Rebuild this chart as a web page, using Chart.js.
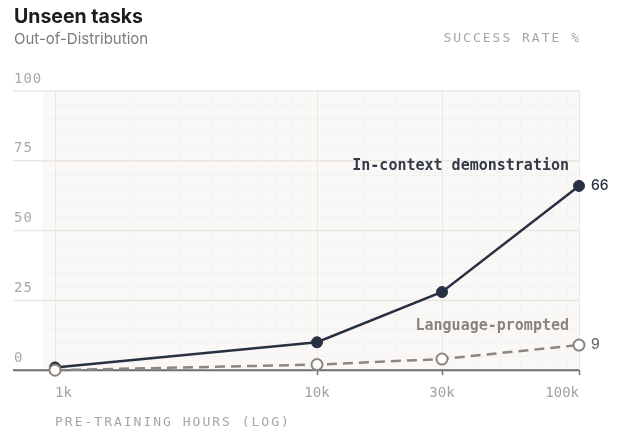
<!DOCTYPE html>
<html lang="en">
<head>
    <meta charset="UTF-8">
    <title>Unseen tasks</title>
    <style>
        body {
            margin: 0;
            background-color: #ffffff;
        }
        .wrap {
            position: relative;
            width: 623px;
            height: 439px;
        }
    </style>
    <script src="https://cdn.jsdelivr.net/npm/chart.js"></script>
</head>
<body>
    <div class="wrap">
        <canvas id="grafico"></canvas>
    </div>

    <script>
        // dados
        const horas = [1000, 10000, 30000, 100000];
        const rotulosX = ['1k', '10k', '30k', '100k'];
        const ticksY = [0, 25, 50, 75, 100];
        const demonstracao = [1, 10, 28, 66];
        const linguagem = [0, 2, 4, 9];
        const nomes = ['In-context demonstration', 'Language-prompted'];

        const mono = '"DejaVu Sans Mono", monospace';
        const sans = 'Inter, "Noto Sans", sans-serif';
        const escuro = '#283142';
        const cinza = '#8d867e';

        // fundo, grade e textos desenhados por cima do gráfico
        const extras = {
            id: 'extras',
            beforeDraw(chart) {
                const { ctx, chartArea: a } = chart;
                const y = chart.scales.y;
                ctx.save();
                ctx.fillStyle = '#ffffff';
                ctx.fillRect(0, 0, chart.width, chart.height);
                ctx.fillStyle = '#faf8f6';
                ctx.fillRect(a.left - 12, a.top, a.right - a.left + 12, a.bottom - a.top);
                // linhas finas a cada 5
                ctx.strokeStyle = '#f4f1ee';
                ctx.lineWidth = 1;
                for (let v = 5; v < 100; v += 5) {
                    if (v % 25 === 0) continue;
                    const py = Math.round(y.getPixelForValue(v)) + 0.5;
                    ctx.beginPath();
                    ctx.moveTo(a.left - 12, py);
                    ctx.lineTo(a.right, py);
                    ctx.stroke();
                }
                ctx.restore();
            },
            beforeDatasetsDraw(chart) {
                const { ctx, chartArea: a } = chart;
                const y = chart.scales.y;
                ctx.save();
                ticksY.forEach(v => {
                    const py = y.getPixelForValue(v);
                    ctx.beginPath();
                    if (v === 0) {
                        ctx.strokeStyle = '#6e6e6e';
                        ctx.lineWidth = 2;
                    } else {
                        ctx.strokeStyle = '#e9e5e0';
                        ctx.lineWidth = 1.5;
                    }
                    ctx.moveTo(13, py);
                    ctx.lineTo(a.right, py);
                    ctx.stroke();
                });
                ctx.restore();
            },
            afterDraw(chart) {
                const { ctx, chartArea: a } = chart;
                const x = chart.scales.x;
                const y = chart.scales.y;
                ctx.save();
                ctx.textBaseline = 'middle';

                // título e subtítulo
                ctx.textAlign = 'left';
                ctx.fillStyle = '#1c1c1e';
                ctx.font = '700 19.5px ' + sans;
                ctx.fillText('Unseen tasks', 14, 17);
                ctx.fillStyle = '#7b7b7b';
                ctx.font = '15px ' + sans;
                ctx.fillText('Out-of-Distribution', 14, 39);

                // rótulo do eixo y
                ctx.letterSpacing = '2px';
                ctx.font = '13px ' + mono;
                ctx.fillStyle = '#a6a6a6';
                ctx.textAlign = 'right';
                ctx.fillText('SUCCESS RATE %', a.right + 2, 39);

                // rótulo do eixo x
                ctx.textAlign = 'left';
                ctx.fillText('PRE-TRAINING HOURS (LOG)', a.left, 423);

                // valores do eixo y
                ctx.letterSpacing = '1px';
                ctx.font = '14px ' + mono;
                ctx.fillStyle = '#a8a8a8';
                ticksY.forEach(v => {
                    ctx.fillText(String(v), 14, y.getPixelForValue(v) - 12);
                });
                ctx.letterSpacing = '0px';

                // nomes das séries e valores finais
                const ult = horas.length - 1;
                const px = x.getPixelForValue(horas[ult]);
                const py1 = y.getPixelForValue(demonstracao[ult]);
                const py2 = y.getPixelForValue(linguagem[ult]);

                ctx.textAlign = 'right';
                ctx.font = 'bold 15px ' + mono;
                ctx.fillStyle = '#333a46';
                ctx.fillText(nomes[0], px - 10, py1 - 20);
                ctx.fillStyle = '#8a847d';
                ctx.fillText(nomes[1], px - 10, py2 - 19);

                ctx.textAlign = 'left';
                ctx.font = '500 14px ' + sans;
                ctx.fillStyle = '#2b3240';
                ctx.fillText(String(demonstracao[ult]), px + 12, py1);
                ctx.fillStyle = '#6f6a64';
                ctx.fillText(String(linguagem[ult]), px + 12, py2);
                ctx.restore();
            }
        };

        const ctx = document.getElementById('grafico').getContext('2d');
        const grafico = new Chart(ctx, {
            type: 'line',
            data: {
                datasets: [
                    {
                        label: nomes[1],
                        data: horas.map((h, i) => ({ x: h, y: linguagem[i] })),
                        borderColor: cinza,
                        borderWidth: 2.5,
                        borderDash: [10, 6],
                        pointRadius: 5.5,
                        pointBorderWidth: 2,
                        pointBackgroundColor: '#ffffff',
                        pointBorderColor: cinza,
                        clip: false,
                        order: 0
                    },
                    {
                        label: nomes[0],
                        data: horas.map((h, i) => ({ x: h, y: demonstracao[i] })),
                        borderColor: escuro,
                        borderWidth: 2.5,
                        pointRadius: 5.5,
                        pointBorderWidth: 1,
                        pointBackgroundColor: escuro,
                        pointBorderColor: escuro,
                        clip: false,
                        order: 1
                    }
                ]
            },
            options: {
                responsive: true,
                maintainAspectRatio: false,
                animation: false,
                layout: {
                    padding: { left: 55, right: 44, top: 91, bottom: 27 }
                },
                plugins: {
                    legend: { display: false },
                    tooltip: { enabled: false }
                },
                scales: {
                    x: {
                        type: 'logarithmic',
                        min: horas[0],
                        max: horas[horas.length - 1],
                        border: { display: false },
                        grid: {
                            color: c => horas.includes(c.tick && c.tick.value) ? '#ebe7e2' : '#f5f2ef',
                            lineWidth: 1,
                            tickLength: 5,
                            tickColor: c => horas.includes(c.tick && c.tick.value) ? '#777777' : 'rgba(0,0,0,0)',
                            tickWidth: 1.5
                        },
                        ticks: {
                            autoSkip: false,
                            maxRotation: 0,
                            align: 'inner',
                            padding: 10,
                            color: '#a2a2a2',
                            font: { family: mono, size: 14 },
                            callback: function (v) {
                                const i = horas.indexOf(v);
                                return i >= 0 ? rotulosX[i] : '';
                            }
                        }
                    },
                    y: {
                        display: false,
                        min: 0,
                        max: 100
                    }
                }
            },
            plugins: [extras]
        });
    </script>
</body>
</html>
